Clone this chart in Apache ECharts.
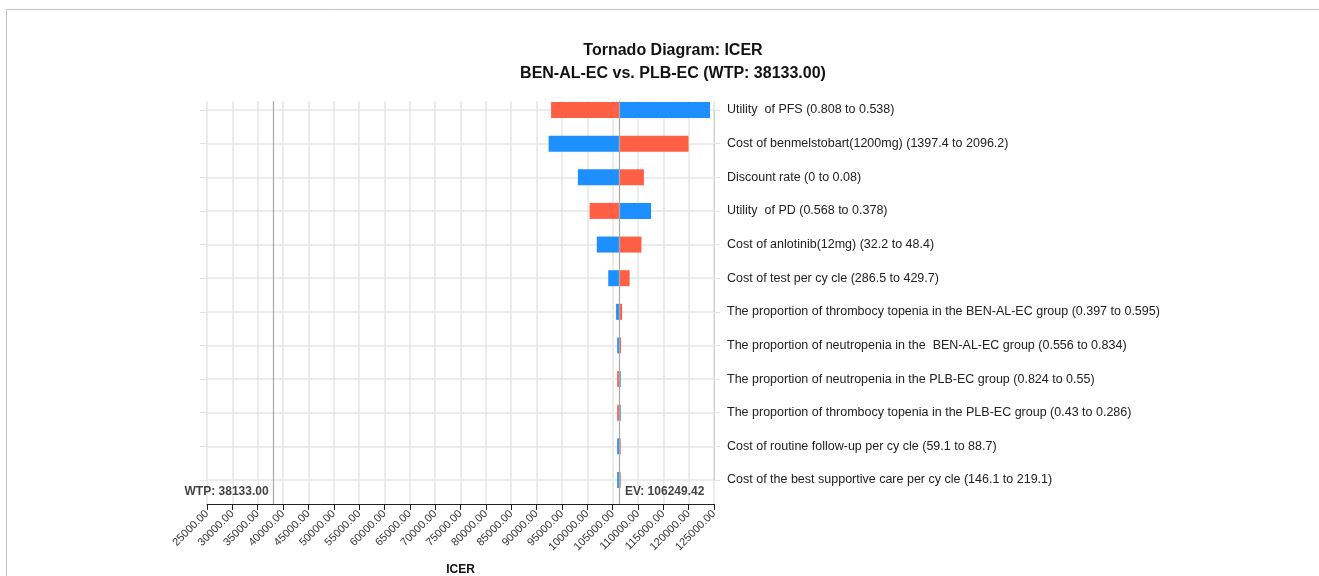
<!DOCTYPE html>
<html>
<head>
<meta charset="utf-8">
<title>Tornado Diagram: ICER</title>
<script src="https://cdn.jsdelivr.net/npm/echarts@6/dist/echarts.min.js"></script>
<style>
	html, body { margin: 0; padding: 0; background: #fff; }
	#main { width: 1319px; height: 576px; }
</style>
</head>
<body>
<div id="main"></div>
<script>
// parameters, top to bottom
var params = [
	'Utility  of PFS (0.808 to 0.538)',
	'Cost of benmelstobart(1200mg) (1397.4 to 2096.2)',
	'Discount rate (0 to 0.08)',
	'Utility  of PD (0.568 to 0.378)',
	'Cost of anlotinib(12mg) (32.2 to 48.4)',
	'Cost of test per cy cle (286.5 to 429.7)',
	'The proportion of thrombocy topenia in the BEN-AL-EC group (0.397 to 0.595)',
	'The proportion of neutropenia in the  BEN-AL-EC group (0.556 to 0.834)',
	'The proportion of neutropenia in the PLB-EC group (0.824 to 0.55)',
	'The proportion of thrombocy topenia in the PLB-EC group (0.43 to 0.286)',
	'Cost of routine follow-up per cy cle (59.1 to 88.7)',
	'Cost of the best supportive care per cy cle (146.1 to 219.1)'
];
// ICER at each end of the range (red bar / blue bar)
var redIcer  = [92870, 119980, 111180, 100470, 110690, 108360, 106880, 106670, 105900, 105900, 106600, 106590];
var blueIcer = [124210, 92380, 98150, 112590, 101880, 104140, 105690, 105900, 106600, 106600, 105900, 105900];
var ev = 106249.42;
var wtp = 38133.00;
var xMin = 25000, xMax = 125000, xStep = 5000;

var RED = '#FF5F45', BLUE = '#1E8FFF';

// stacked bars: invisible base up to the lower end, then lower part to EV, then EV to upper end
var baseVals = [], leftVals = [], rightVals = [];
for (var i = 0; i < params.length; i++) {
	var lo = Math.min(redIcer[i], blueIcer[i]);
	var hi = Math.max(redIcer[i], blueIcer[i]);
	baseVals.push(lo);
	leftVals.push({ value: ev - lo, itemStyle: { color: redIcer[i] <= blueIcer[i] ? RED : BLUE } });
	rightVals.push({ value: hi - ev, itemStyle: { color: redIcer[i] <= blueIcer[i] ? BLUE : RED } });
}

var myChart = echarts.init(document.getElementById('main'));
var font = 'Arial, "Liberation Sans", sans-serif';
var option = {
	animation: false,
	textStyle: { fontFamily: font },
	title: {
		text: 'Tornado Diagram: ICER\nBEN-AL-EC vs. PLB-EC (WTP: 38133.00)',
		left: 668,
		top: 34,
		textAlign: 'center',
		textStyle: { fontSize: 16, fontWeight: 'bold', color: '#111', lineHeight: 23, fontFamily: font }
	},
	graphic: [{
		type: 'polyline',
		shape: { points: [[6.5, 576], [6.5, 9.5], [1319, 9.5]] },
		style: { stroke: '#c4c4c4', lineWidth: 1, fill: null },
		silent: true
	}],
	grid: [
		{ left: 207, right: 605, top: 110, bottom: 96, outerBoundsMode: 'none' },
		{ left: 207, right: 605, top: 101, bottom: 72, outerBoundsMode: 'none' }
	],
	xAxis: [{
		gridIndex: 0, type: 'value', min: xMin, max: xMax, interval: xStep, show: false
	}, {
		gridIndex: 1, type: 'value', min: xMin, max: xMax, interval: xStep,
		name: 'ICER', nameLocation: 'middle', nameGap: 60,
		nameTextStyle: { fontWeight: 'bold', fontSize: 12, color: '#111' },
		axisLine: { show: true, lineStyle: { color: '#222', width: 1 } },
		axisTick: { show: true, length: 6, lineStyle: { color: '#222' } },
		axisLabel: {
			rotate: 45, fontSize: 11, color: '#333', margin: 8,
			formatter: function (v) { return v.toFixed(2); }
		},
		splitLine: { show: true, lineStyle: { color: '#e6e6e6', width: 1.5 } }
	}],
	yAxis: [{
		gridIndex: 0, type: 'category', data: params, inverse: true, boundaryGap: false,
		position: 'right',
		axisLine: { show: true, lineStyle: { color: '#cfcfcf' } },
		axisTick: { show: true, length: 6, lineStyle: { color: '#e3e3e3' } },
		axisLabel: { margin: 13, fontSize: 12.5, color: '#222' },
		splitLine: { show: true, lineStyle: { color: '#e6e6e6', width: 1.5 } }
	}, {
		gridIndex: 0, type: 'category', data: params, inverse: true, boundaryGap: false,
		position: 'left',
		axisLine: { show: false },
		axisTick: { show: true, length: 7, lineStyle: { color: '#e3e3e3' } },
		axisLabel: { show: false }
	}, {
		gridIndex: 1, type: 'value', min: 0, max: 1, show: false
	}],
	series: [{
		type: 'bar', xAxisIndex: 0, yAxisIndex: 0, stack: 'tor', barWidth: 16,
		data: baseVals, itemStyle: { color: 'transparent' }, silent: true
	}, {
		type: 'bar', xAxisIndex: 0, yAxisIndex: 0, stack: 'tor', barWidth: 16,
		data: leftVals
	}, {
		type: 'bar', xAxisIndex: 0, yAxisIndex: 0, stack: 'tor', barWidth: 16,
		data: rightVals
	}, {
		type: 'scatter', xAxisIndex: 1, yAxisIndex: 2, symbolSize: 0, silent: true,
		data: [
			{ name: 'WTP: ' + wtp.toFixed(2), value: [wtp, 0.03], label: { position: 'left', distance: 5 } },
			{ name: 'EV: ' + ev.toFixed(2), value: [ev, 0.03], label: { position: 'right', distance: 6 } }
		],
		label: {
			show: true, formatter: '{b}', fontWeight: 'bold', fontSize: 12, color: '#111'
		},
		markLine: {
			silent: true, symbol: 'none', animation: false,
			label: { show: false },
			lineStyle: { color: '#a9a9a9', width: 1.2, type: 'solid' },
			data: [{ xAxis: wtp }, { xAxis: ev }]
		}
	}]
};
myChart.setOption(option);
</script>
</body>
</html>
